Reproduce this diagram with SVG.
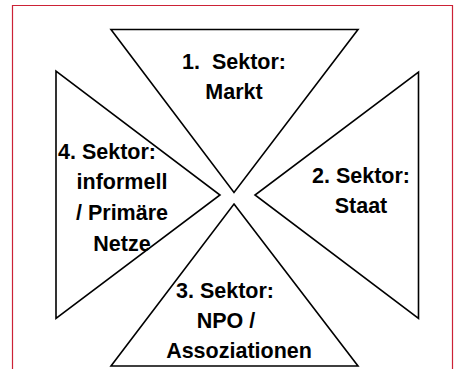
<svg xmlns="http://www.w3.org/2000/svg" width="457" height="369" viewBox="0 0 457 369">
<style>
.tri{fill:#ffffff;stroke:#000000;stroke-width:1.6;stroke-linejoin:miter}
.lbl{font-family:"Liberation Sans",Arial,sans-serif;font-weight:bold;font-size:21.5px;fill:#000000;text-anchor:middle;white-space:pre}
</style>
<rect x="0" y="0" width="457" height="369" fill="#ffffff"/>
<path d="M12.5,369 V5.5 H452.5 V369" fill="none" stroke="#cc2236" stroke-width="1.2"/>
<g id="sektor1">
<polygon class="tri" points="111,29.5 358,29.5 234,192.5"/>
<text class="lbl" x="234" y="69" xml:space="preserve">1.  Sektor:</text>
<text class="lbl" x="234" y="99">Markt</text>
</g>
<g id="sektor2">
<polygon class="tri" points="418.5,72 418.5,318.5 255,195"/>
<text class="lbl" x="361" y="183">2. Sektor:</text>
<text class="lbl" x="361" y="213">Staat</text>
</g>
<g id="sektor3">
<polygon class="tri" points="234,204 358,366 111,366"/>
<text class="lbl" x="225" y="298">3. Sektor:</text>
<text class="lbl" x="226" y="328">NPO /</text>
<text class="lbl" x="239" y="358">Assoziationen</text>
</g>
<g id="sektor4">
<polygon class="tri" points="56,71 56,318.5 220,195"/>
<text class="lbl" x="107" y="159">4. Sektor:</text>
<text class="lbl" x="122" y="189">informell</text>
<text class="lbl" x="122" y="220">/ Primäre</text>
<text class="lbl" x="122" y="250.5">Netze</text>
</g>
<g id="connectors"></g>
</svg>
